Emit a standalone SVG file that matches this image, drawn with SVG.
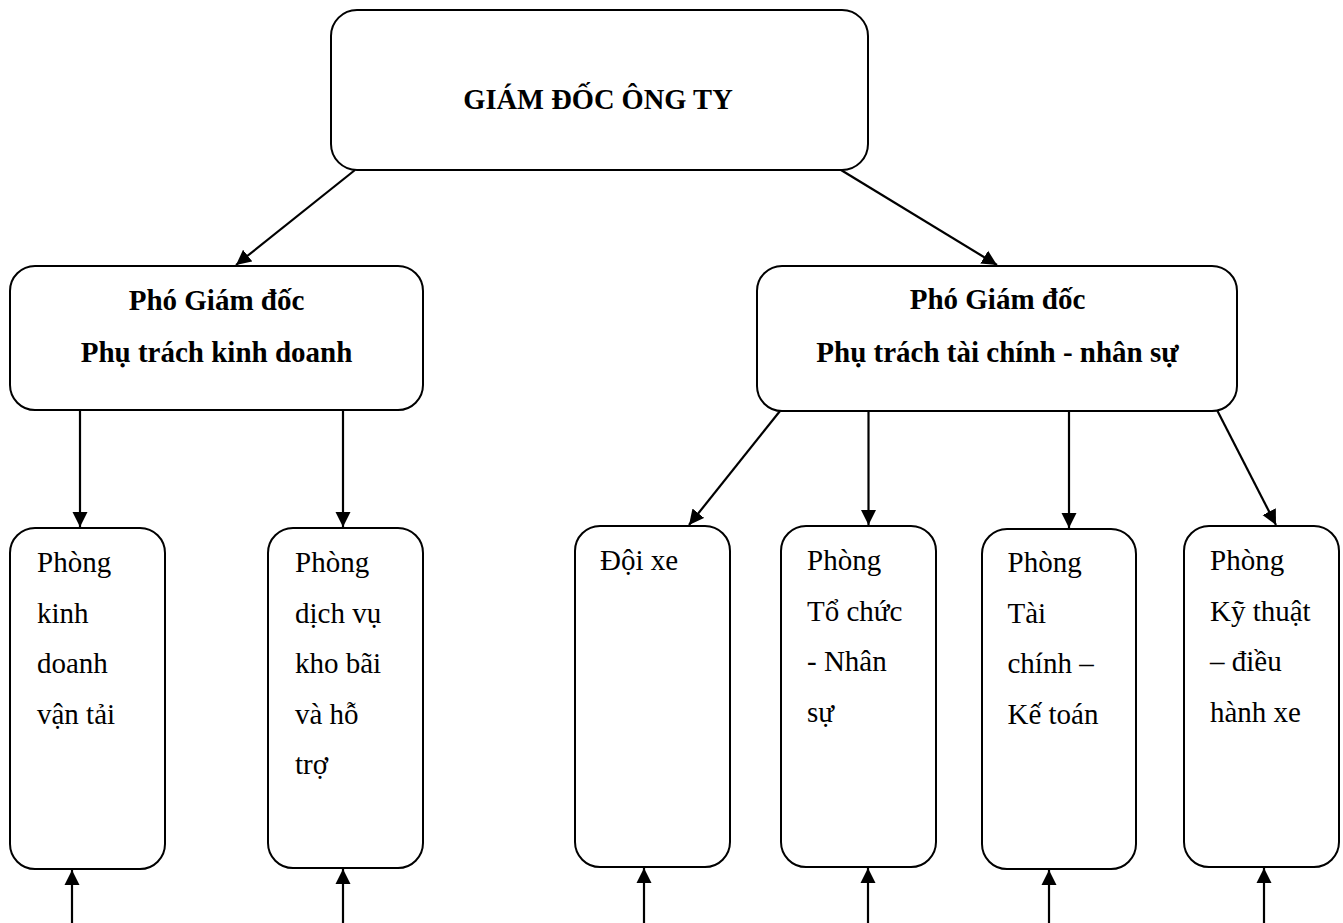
<svg xmlns="http://www.w3.org/2000/svg" width="1343" height="923" viewBox="0 0 1343 923">
<style>
.box{fill:#fff;stroke:#000;stroke-width:2}
text{font-family:'Liberation Serif','DejaVu Serif',serif;fill:#000}
.b{font-weight:bold;font-size:29px;text-anchor:middle}
.r{font-size:29px}
.c{stroke:#000;stroke-width:2.2;fill:none;marker-end:url(#ah)}
</style>
<defs>
<marker id="ah" markerUnits="userSpaceOnUse" markerWidth="17" markerHeight="17" refX="15" refY="8" orient="auto">
<path d="M0,0.5 L15,8 L0,15.5 z" fill="#000"/>
</marker>
</defs>
<rect width="1343" height="923" fill="#fff"/>
<g id="connectors">
<line class="c" x1="355" y1="170" x2="236" y2="265"/>
<line class="c" x1="841" y1="170" x2="997" y2="265"/>
<line class="c" x1="80" y1="410" x2="80" y2="527"/>
<line class="c" x1="343" y1="410" x2="343" y2="527"/>
<line class="c" x1="780" y1="411" x2="689" y2="525"/>
<line class="c" x1="868.5" y1="411" x2="868.5" y2="525"/>
<line class="c" x1="1069" y1="411" x2="1069" y2="528"/>
<line class="c" x1="1217.5" y1="411" x2="1276" y2="525"/>
<line class="c" x1="72" y1="923" x2="72" y2="870"/>
<line class="c" x1="343" y1="923" x2="343" y2="869"/>
<line class="c" x1="644" y1="923" x2="644" y2="868"/>
<line class="c" x1="868" y1="923" x2="868" y2="868"/>
<line class="c" x1="1049" y1="923" x2="1049" y2="870"/>
<line class="c" x1="1264" y1="923" x2="1264" y2="868"/>
</g>
<g id="giam-doc">
<rect class="box" x="331" y="10" width="537" height="160" rx="26"/>
<text class="b" x="598" y="109" style="font-size:28.5px">GIÁM ĐỐC ÔNG TY</text>
</g>
<g id="pgd-kinh-doanh">
<rect class="box" x="10" y="266" width="413" height="144" rx="25"/>
<text class="b" x="216.5" y="310">Phó Giám đốc</text>
<text class="b" x="216.5" y="362">Phụ trách kinh doanh</text>
</g>
<g id="pgd-tai-chinh">
<rect class="box" x="757" y="266" width="480" height="145" rx="25"/>
<text class="b" x="997.5" y="309">Phó Giám đốc</text>
<text class="b" x="997.5" y="362">Phụ trách tài chính - nhân sự</text>
</g>
<g id="phong-kinh-doanh">
<rect class="box" x="10" y="528" width="155" height="341" rx="25"/>
<text class="r" x="37" y="572">Phòng</text>
<text class="r" x="37" y="622.5">kinh</text>
<text class="r" x="37" y="673">doanh</text>
<text class="r" x="37" y="723.5">vận tải</text>
</g>
<g id="phong-dich-vu">
<rect class="box" x="268" y="528" width="155" height="340" rx="25"/>
<text class="r" x="295" y="572">Phòng</text>
<text class="r" x="295" y="622.5">dịch vụ</text>
<text class="r" x="295" y="673">kho bãi</text>
<text class="r" x="295" y="723.5">và hỗ</text>
<text class="r" x="295" y="774">trợ</text>
</g>
<g id="doi-xe">
<rect class="box" x="575" y="526" width="155" height="341" rx="25"/>
<text class="r" x="600" y="570">Đội xe</text>
</g>
<g id="phong-to-chuc">
<rect class="box" x="781" y="526" width="155" height="341" rx="25"/>
<text class="r" x="807" y="570">Phòng</text>
<text class="r" x="807" y="620.5">Tổ chức</text>
<text class="r" x="807" y="671">- Nhân</text>
<text class="r" x="807" y="721.5">sự</text>
</g>
<g id="phong-tai-chinh">
<rect class="box" x="982" y="529" width="154" height="340" rx="25"/>
<text class="r" x="1007.5" y="572">Phòng</text>
<text class="r" x="1007.5" y="622.5">Tài</text>
<text class="r" x="1007.5" y="673">chính –</text>
<text class="r" x="1007.5" y="723.5">Kế toán</text>
</g>
<g id="phong-ky-thuat">
<rect class="box" x="1184" y="526" width="155" height="341" rx="25"/>
<text class="r" x="1210" y="570">Phòng</text>
<text class="r" x="1210" y="620.5">Kỹ thuật</text>
<text class="r" x="1210" y="671">– điều</text>
<text class="r" x="1210" y="721.5">hành xe</text>
</g>
</svg>
